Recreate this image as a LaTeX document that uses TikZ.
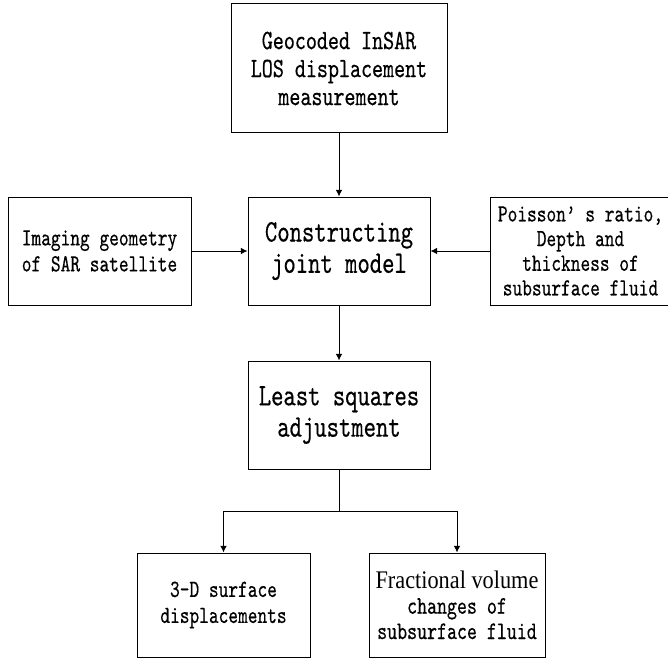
\documentclass[tikz,border=0pt]{standalone}
\usepackage{fontspec}
\usetikzlibrary{arrows.meta}
\newfontfamily\boxfont{lmmono10-regular.otf}[FakeStretch=0.75,FakeBold=0.4]
\newfontfamily\romfont{Liberation Serif}[FakeStretch=0.88]

\begin{document}
\begin{tikzpicture}[x=0.75pt,y=0.75pt,yscale=-1,xscale=1,
  box/.style={draw, line width=0.75pt, inner sep=0pt, align=center, minimum width=136.5pt, minimum height=81pt, font=\boxfont\fontsize{18.5}{19.5}\selectfont},
  bigtext/.style={font=\boxfont\fontsize{23.5}{23.5}\selectfont},
  arr/.style={line width=0.75pt, -{Latex[length=5pt,width=5pt]}}]
%set diagram size 668 x 660
\useasboundingbox (0,0) rectangle (668,660);

% Text Node
\node [box, minimum width=162pt, minimum height=96.75pt, font=\boxfont\fontsize{21}{21}\selectfont] (geo) at (339,68.5) {Geocoded InSAR\\LOS displacement\\measurement};
% Text Node
\node [box, bigtext] (model) at (339,251) {Constructing\\joint model};
% Text Node
\node [box, minimum width=137.25pt] (imaging) at (99.5,251) {Imaging geometry\\of SAR satellite};
% Text Node
\node [box, minimum width=135.75pt, font=\boxfont\fontsize{18.5}{18.5}\selectfont] (poisson) at (580.5,251) {Poisson’ s ratio,\\Depth and\\thickness of\\subsurface fluid};
% Text Node
\node [box, bigtext] (lsq) at (339,415) {Least squares\\adjustment};
% Text Node
\node [box, minimum width=129.75pt, minimum height=78pt] (disp) at (223.5,605) {3-D surface\\displacements};
% Text Node
\node [box, minimum width=132pt, minimum height=78pt, font=\boxfont\fontsize{19}{19}\selectfont] (frac) at (457,605) {{\romfont Fractional volume}\\changes of\\subsurface fluid};

%Straight Lines
\draw [arr] (geo) -- (model);
\draw [arr] (imaging) -- (model);
\draw [arr] (poisson) -- (model);
\draw [arr] (model) -- (lsq);

%Straight Lines
\coordinate (split) at (339,511);
\draw [line width=0.75pt] (lsq) -- (split);
\draw [arr] (split) -| (disp);
\draw [arr] (split) -| (frac);

\end{tikzpicture}
\end{document}
